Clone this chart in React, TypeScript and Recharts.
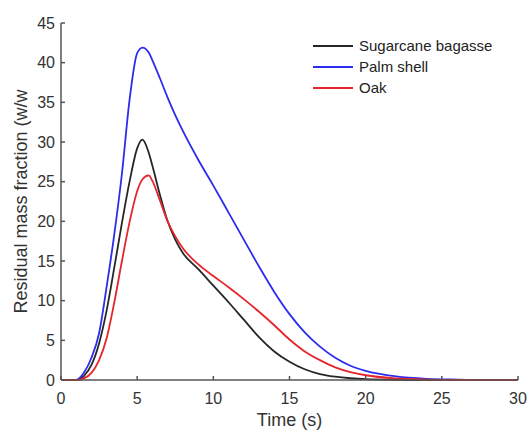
import { LineChart, Line, XAxis, YAxis, Legend } from 'recharts'

const time = [0, 0.5, 1, 1.5, 2, 2.5, 3, 3.5, 4, 4.5, 5, 5.35, 5.75, 6, 6.5, 7, 7.5, 8, 9, 10, 11, 12, 13, 14, 15, 16, 17, 18, 19, 20, 22, 24, 26, 28, 30]
const sugarcane = [0, 0, 0, 0.5, 1.9, 4.6, 8.8, 14.2, 19.8, 25.0, 29.2, 30.3, 28.7, 27.0, 23.3, 20.0, 17.7, 16.0, 14.0, 11.9, 9.8, 7.6, 5.4, 3.6, 2.3, 1.35, 0.75, 0.42, 0.22, 0.1, 0.02, 0, 0, 0, 0]
const palmShell = [0, 0, 0, 0.9, 2.8, 5.9, 11.8, 18.4, 26, 35.3, 41.2, 41.9, 41.3, 40.3, 38.0, 35.6, 33.4, 31.4, 27.8, 24.5, 21.1, 17.7, 14.3, 11.1, 8.3, 6.0, 4.2, 2.8, 1.8, 1.15, 0.45, 0.15, 0.05, 0, 0]
const oak = [0, 0, 0, 0.2, 0.9, 2.5, 5.3, 9.8, 15.0, 19.9, 23.8, 25.3, 25.8, 25.1, 22.6, 20.0, 18.1, 16.6, 14.6, 13.1, 11.7, 10.2, 8.6, 6.9, 5.1, 3.6, 2.5, 1.6, 1.0, 0.6, 0.2, 0.05, 0, 0, 0]
const xTicks = [0, 5, 10, 15, 20, 25, 30]
const yTicks = [0, 5, 10, 15, 20, 25, 30, 35, 40, 45]

const series = [
  { key: 'sugarcane', name: 'Sugarcane bagasse', color: '#262626' },
  { key: 'palm', name: 'Palm shell', color: '#2c2cf0' },
  { key: 'oak', name: 'Oak', color: '#e5252a' },
]

const data = time.map((t, i) => ({ t, sugarcane: sugarcane[i], palm: palmShell[i], oak: oak[i] }))

const font = '"Liberation Sans", Arial, sans-serif'
const axisColor = '#555'
const textColor = '#333'

function LegendBox() {
  return (
    <div style={{ fontFamily: font, fontSize: 15, color: '#222' }}>
      {series.map((s) => (
        <div key={s.key} style={{ display: 'flex', alignItems: 'center', height: 21 }}>
          <svg width={40} height={4} style={{ marginRight: 6 }}>
            <line x1={0} y1={2} x2={40} y2={2} stroke={s.color} strokeWidth={2} />
          </svg>
          <span>{s.name}</span>
        </div>
      ))}
    </div>
  )
}

export default function App() {
  return (
    <div style={{ position: 'absolute', left: 0, top: 0, width: 528, height: 430, background: '#fff' }}>
      <LineChart width={528} height={430} data={data} margin={{ top: 23, right: 10, bottom: 0, left: 0 }}>
        <XAxis
          dataKey="t"
          type="number"
          domain={[0, 30]}
          ticks={xTicks}
          height={50}
          stroke={axisColor}
          strokeWidth={1.5}
          tickSize={-4}
          tickMargin={17}
          tick={{ fill: textColor, fontSize: 16, fontFamily: font }}
          label={{ value: 'Time (s)', position: 'insideBottom', offset: 4, fill: textColor, fontSize: 18, fontFamily: font }}
        />
        <YAxis
          type="number"
          domain={[0, 45]}
          ticks={yTicks}
          width={61}
          stroke={axisColor}
          strokeWidth={1.5}
          tickSize={-4}
          tickMargin={10}
          tick={{ fill: textColor, fontSize: 16, fontFamily: font }}
          label={{ value: 'Residual mass fraction (w/w', angle: -90, position: 'center', dx: -10, fill: textColor, fontSize: 18, fontFamily: font }}
        />
        <Legend
          layout="vertical"
          align="center"
          verticalAlign="middle"
          content={<LegendBox />}
          wrapperStyle={{ top: 35, left: 313, width: 210 }}
        />
        {series.map((s) => (
          <Line
            key={s.key}
            type="monotone"
            dataKey={s.key}
            name={s.name}
            stroke={s.color}
            strokeWidth={1.8}
            dot={false}
            isAnimationActive={false}
          />
        ))}
      </LineChart>
    </div>
  )
}
